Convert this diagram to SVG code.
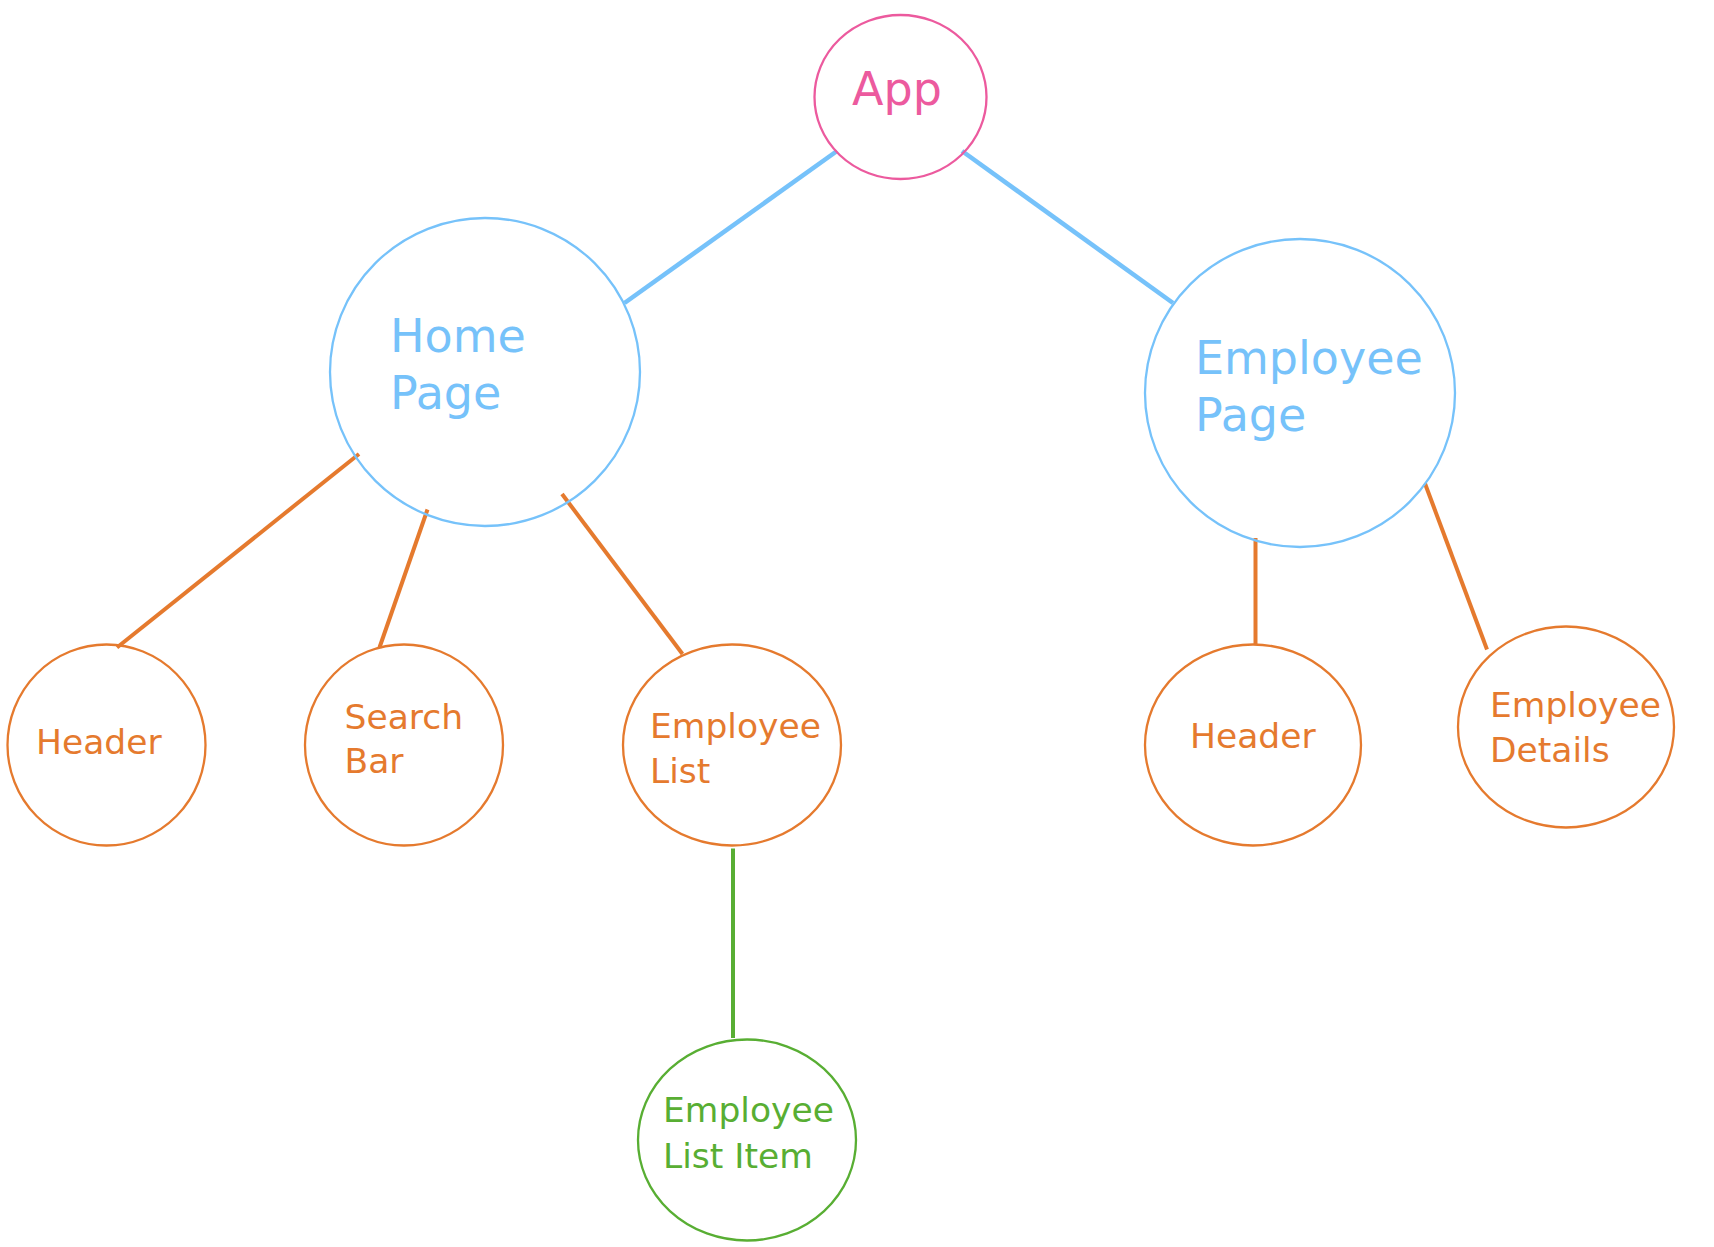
<svg xmlns="http://www.w3.org/2000/svg" width="1714" height="1247" viewBox="0 0 1714 1247">
<style>
.n{fill:none;stroke-width:2.3}
.t{font-family:"DejaVu Sans","Noto Sans",sans-serif}
.big{font-size:46px}
.small{font-size:34.5px}
.pink{stroke:#EC5A9E}
.blue{stroke:#76C2FA}
.orange{stroke:#E57A2E}
.green{stroke:#58AE33}
.tpink{fill:#EC5A9E}
.tblue{fill:#76C2FA}
.torange{fill:#E57A2E}
.tgreen{fill:#58AE33}
.c{fill:none;stroke-linecap:butt}
</style>
<rect width="1714" height="1247" fill="#ffffff"/>
<g id="connectors">
<line class="c blue" stroke-width="4.6" x1="837" y1="151" x2="624.5" y2="303"/>
<line class="c blue" stroke-width="4.6" x1="962" y1="151" x2="1173" y2="303"/>
<line class="c orange" stroke-width="4" x1="359" y1="454" x2="117" y2="647.5"/>
<line class="c orange" stroke-width="4" x1="427.5" y1="509.5" x2="379.5" y2="647.5"/>
<line class="c orange" stroke-width="4" x1="562" y1="494" x2="682.5" y2="654"/>
<line class="c orange" stroke-width="4" x1="1255.5" y1="538" x2="1255.5" y2="645"/>
<line class="c orange" stroke-width="4" x1="1425" y1="483.5" x2="1487" y2="649.5"/>
<line class="c green" stroke-width="4" x1="733" y1="848.5" x2="733" y2="1038"/>
</g>
<g id="app">
<ellipse class="n pink" cx="900.5" cy="97" rx="86" ry="82"/>
<text class="t big tpink" x="852" y="105">App</text>
</g>
<g id="home-page">
<ellipse class="n blue" cx="485" cy="372" rx="155" ry="154"/>
<text class="t big tblue" x="390" y="352">Home</text>
<text class="t big tblue" x="390" y="409">Page</text>
</g>
<g id="employee-page">
<ellipse class="n blue" cx="1300" cy="393" rx="155" ry="154"/>
<text class="t big tblue" x="1195" y="374">Employee</text>
<text class="t big tblue" x="1195" y="431">Page</text>
</g>
<g id="header-home">
<ellipse class="n orange" cx="106.5" cy="745" rx="99" ry="100.5"/>
<text class="t small torange" x="36" y="754">Header</text>
</g>
<g id="search-bar">
<ellipse class="n orange" cx="404" cy="745" rx="99" ry="100.5"/>
<text class="t small torange" x="344.5" y="729">Search</text>
<text class="t small torange" x="344.5" y="773">Bar</text>
</g>
<g id="employee-list">
<ellipse class="n orange" cx="732" cy="745" rx="109" ry="100.5"/>
<text class="t small torange" x="650" y="738">Employee</text>
<text class="t small torange" x="650" y="783">List</text>
</g>
<g id="header-employee">
<ellipse class="n orange" cx="1253" cy="745" rx="108" ry="100.5"/>
<text class="t small torange" x="1190" y="748">Header</text>
</g>
<g id="employee-details">
<ellipse class="n orange" cx="1566" cy="727" rx="108" ry="100.5"/>
<text class="t small torange" x="1490" y="717">Employee</text>
<text class="t small torange" x="1490" y="762">Details</text>
</g>
<g id="employee-list-item">
<ellipse class="n green" cx="747" cy="1140" rx="109" ry="100.5"/>
<text class="t small tgreen" x="663" y="1122">Employee</text>
<text class="t small tgreen" x="663" y="1168">List Item</text>
</g>
</svg>
